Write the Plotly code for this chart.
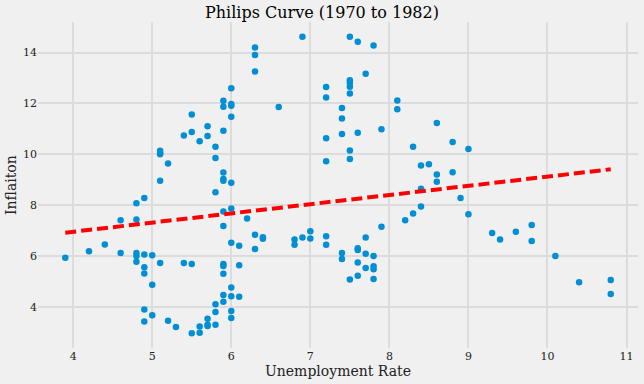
import numpy as np
import plotly.graph_objects as go

# Unemployment rate (x) and inflation (y)
unemployment = [
    3.9, 4.2, 4.4, 4.6, 4.6,
    4.8, 4.8, 4.8, 4.8, 4.8,
    4.9, 4.9, 4.9, 4.9, 4.9, 4.9,
    5.0, 5.0, 5.0,
    5.1, 5.1, 5.1, 5.1, 5.1,
    5.2, 5.2, 5.3, 5.4, 5.4,
    5.5, 5.5, 5.5, 5.5,
    5.6, 5.6, 5.6,
    5.7, 5.7, 5.7, 5.7, 5.7,
    5.8, 5.8, 5.8, 5.8, 5.8, 5.8,
    5.9, 5.9, 5.9, 5.9, 5.9, 5.9, 5.9, 5.9, 5.9, 5.9, 5.9, 5.9, 5.9,
    6.0, 6.0, 6.0, 6.0, 6.0, 6.0, 6.0, 6.0, 6.0, 6.0, 6.0,
    6.1, 6.1, 6.1, 6.2,
    6.3, 6.3, 6.3, 6.3, 6.3,
    6.4, 6.4, 6.6, 6.8, 6.8, 6.9, 6.9, 7.0, 7.0,
    7.2, 7.2, 7.2, 7.2, 7.2, 7.2,
    7.4, 7.4, 7.4, 7.4, 7.4,
    7.5, 7.5, 7.5, 7.5, 7.5, 7.5, 7.5, 7.5,
    7.6, 7.6, 7.6, 7.6, 7.6, 7.6,
    7.7, 7.7, 7.7, 7.7,
    7.8, 7.8, 7.8, 7.8, 7.8,
    7.9, 7.9, 8.1, 8.1, 8.2, 8.3, 8.3,
    8.4, 8.4, 8.4, 8.5, 8.6, 8.6, 8.6,
    8.8, 8.8, 8.9, 9.0, 9.0,
    9.3, 9.4, 9.6, 9.8, 9.8, 10.1, 10.4, 10.8, 10.8,
]
inflation = [
    5.93, 6.18, 6.45, 7.40, 6.11,
    8.07, 7.43, 6.11, 6.00, 5.77,
    8.28, 6.06, 5.55, 5.31, 3.89, 3.42,
    6.03, 4.87, 3.67,
    10.14, 10.06, 10.00, 8.96, 5.72,
    9.64, 3.45, 3.20, 10.74, 5.72,
    11.56, 10.88, 5.68, 2.96,
    10.51, 3.22, 2.98,
    11.10, 10.72, 3.53, 3.29, 3.24,
    10.29, 9.85, 8.50, 4.10, 3.79, 3.29,
    12.10, 11.87, 10.92, 9.28, 9.03, 8.96, 7.75, 7.18, 5.68, 5.60, 5.30, 4.46, 4.20,
    12.60, 11.98, 11.91, 11.48, 8.88, 7.87, 6.52, 4.76, 4.41, 3.83, 3.56,
    6.40, 5.63, 4.39, 7.47,
    14.20, 13.90, 13.26, 6.83, 6.27,
    6.73, 6.68, 11.86, 6.65, 6.44, 14.62, 6.72, 6.97, 6.69,
    12.65, 12.23, 10.63, 9.72, 6.77, 6.44,
    11.82, 11.41, 10.80, 6.11, 5.88,
    14.62, 12.91, 12.81, 12.66, 12.39, 10.15, 9.81, 5.07,
    14.43, 10.85, 6.30, 6.23, 5.74, 5.22,
    13.17, 6.72, 6.09, 5.52,
    14.28, 6.00, 5.59, 5.48, 5.09,
    10.98, 7.15, 12.11, 11.77, 7.40, 10.29, 7.67,
    9.56, 8.64, 7.94, 9.61, 11.23, 9.20, 8.92,
    10.48, 9.29, 8.28, 10.21, 7.64,
    6.90, 6.65, 6.95, 7.22, 6.59, 6.00, 4.96, 5.05, 4.50,
]

title_text = "Philips Curve (1970 to 1982)"
x_label = "Unemployment Rate"
y_label = "Inflaiton"

x = np.array(unemployment)
y = np.array(inflation)
slope, intercept = np.polyfit(x, y, 1)
xfit = np.array([x.min(), x.max()])
yfit = slope * xfit + intercept

def padded(lo, hi, frac=0.05):
    span = hi - lo
    return [lo - frac * span, hi + frac * span]

xr = padded(x.min(), x.max())
yr = padded(y.min(), y.max())

W, H = 644, 384
ML, MR, MT, MB = 38, 6, 22, 36
pw, ph = W - ML - MR, H - MT - MB

font = "DejaVu Serif"
fig = go.Figure()
fig.add_trace(go.Scatter(
    x=unemployment, y=inflation, mode="markers",
    marker=dict(color="#008fd5", size=6.5, line=dict(width=0)),
    showlegend=False,
))
fig.add_trace(go.Scatter(
    x=xfit, y=yfit, mode="lines",
    line=dict(color="#ff0000", width=4, dash="11px,5px"),
    showlegend=False,
))
axis_common = dict(showgrid=True, gridcolor="#dcdcdc", gridwidth=1.5,
                   zeroline=False, showline=False, ticks="", automargin=False,
                   tickfont=dict(family=font, size=11, color="#222222"))
fig.update_layout(
    width=W, height=H,
    paper_bgcolor="#f0f0f0", plot_bgcolor="#f0f0f0",
    margin=dict(l=ML, r=MR, t=MT, b=MB),
    font=dict(family=font, color="#222222"),
    title=dict(text=title_text, x=0.5, xanchor="center", y=1 - 12 / H, yanchor="middle",
               font=dict(family=font, size=16, color="#000000")),
    xaxis=dict(range=xr, dtick=1, **axis_common),
    yaxis=dict(range=yr, dtick=2, **axis_common),
    annotations=[
        dict(text=x_label, xref="paper", yref="paper", x=0.5, y=-(371 - (H - MB)) / ph,
             xanchor="center", yanchor="middle", showarrow=False,
             font=dict(family=font, size=14, color="#222222")),
        dict(text=y_label, xref="paper", yref="paper", x=-(ML - 11) / pw, y=0.5,
             xanchor="center", yanchor="middle", textangle=-90, showarrow=False,
             font=dict(family=font, size=14, color="#222222")),
    ],
)
fig.write_html("out.html",
               config={"displayModeBar": False},
               post_script="document.body.style.margin='0';document.body.style.background='#f0f0f0';")
